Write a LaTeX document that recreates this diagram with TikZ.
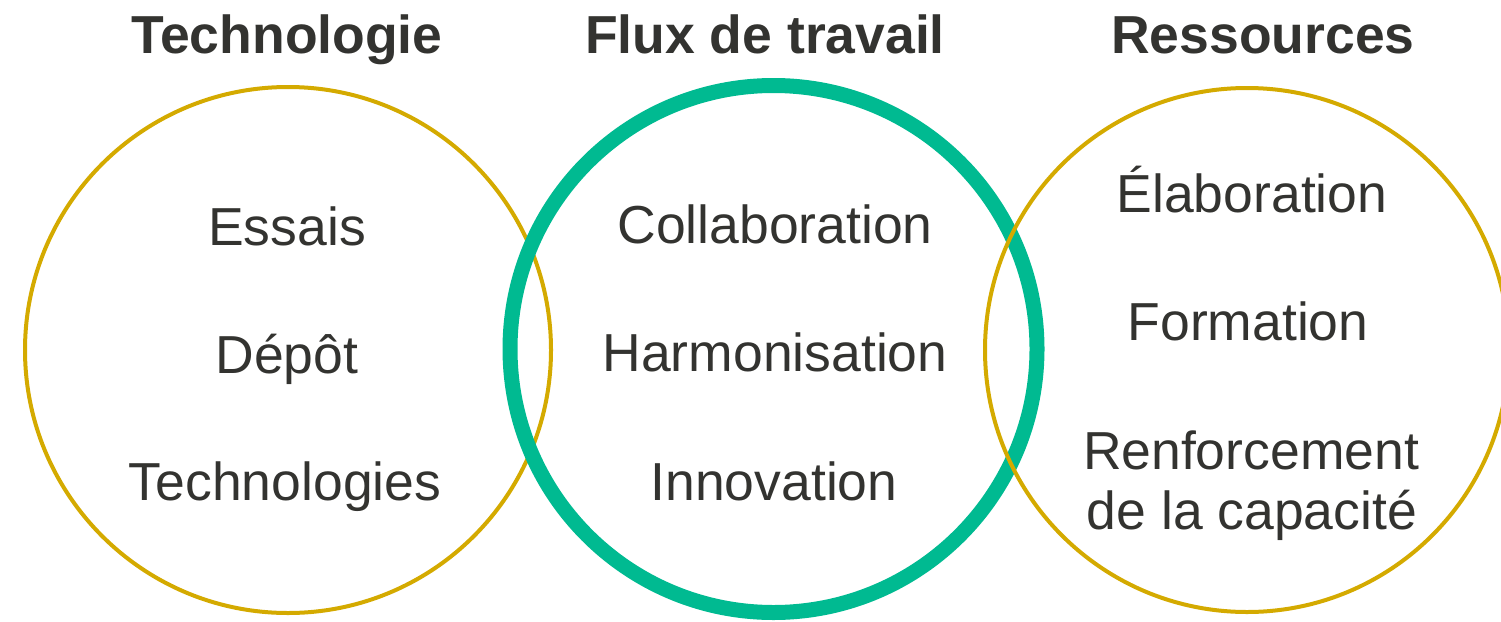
\documentclass[tikz,border=0pt]{standalone}
\usepackage{fontspec}
\setmainfont{Liberation Sans}
\definecolor{vgold}{HTML}{D4AA00}
\definecolor{vgreen}{HTML}{00BA91}
\definecolor{vtext}{HTML}{333330}
\begin{document}
\begin{tikzpicture}[x=1pt,y=-1pt,
  goldring/.style={draw=vgold, line width=4pt},
  greenring/.style={draw=vgreen, line width=15pt},
  title/.style={anchor=base, inner sep=0pt, text=vtext, font=\fontsize{53.5}{60}\selectfont\bfseries},
  item/.style={anchor=base, inner sep=0pt, text=vtext, font=\fontsize{53.5}{60}\selectfont}]
\useasboundingbox (0,0) rectangle (1501,621);
\clip (0,0) rectangle (1501,621);
% circles
\draw[goldring] (288,350) circle (263);
\draw[greenring] (773.5,349) circle (263.5);
\draw[goldring] (1247,350) circle (262);
% titles
\node[title] (t1) at (287,53) {Technologie};
\node[title] (t2) at (765,53) {Flux de travail};
\node[title] (t3) at (1263,53) {Ressources};
% left items
\node[item] (a1) at (287,245) {Essais};
\node[item] (a2) at (287,373) {Dépôt};
\node[item] (a3) at (285,500) {Technologies};
% middle items
\node[item] (b1) at (775,243) {Collaboration};
\node[item] (b2) at (775,371) {Harmonisation};
\node[item] (b3) at (774,500) {Innovation};
% right items
\node[item] (c1) at (1252,212) {Élaboration};
\node[item] (c2) at (1248,340) {Formation};
\node[item] (c3) at (1251,469) {Renforcement};
\node[item] (c4) at (1252,529) {de la capacité};
\end{tikzpicture}
\end{document}
